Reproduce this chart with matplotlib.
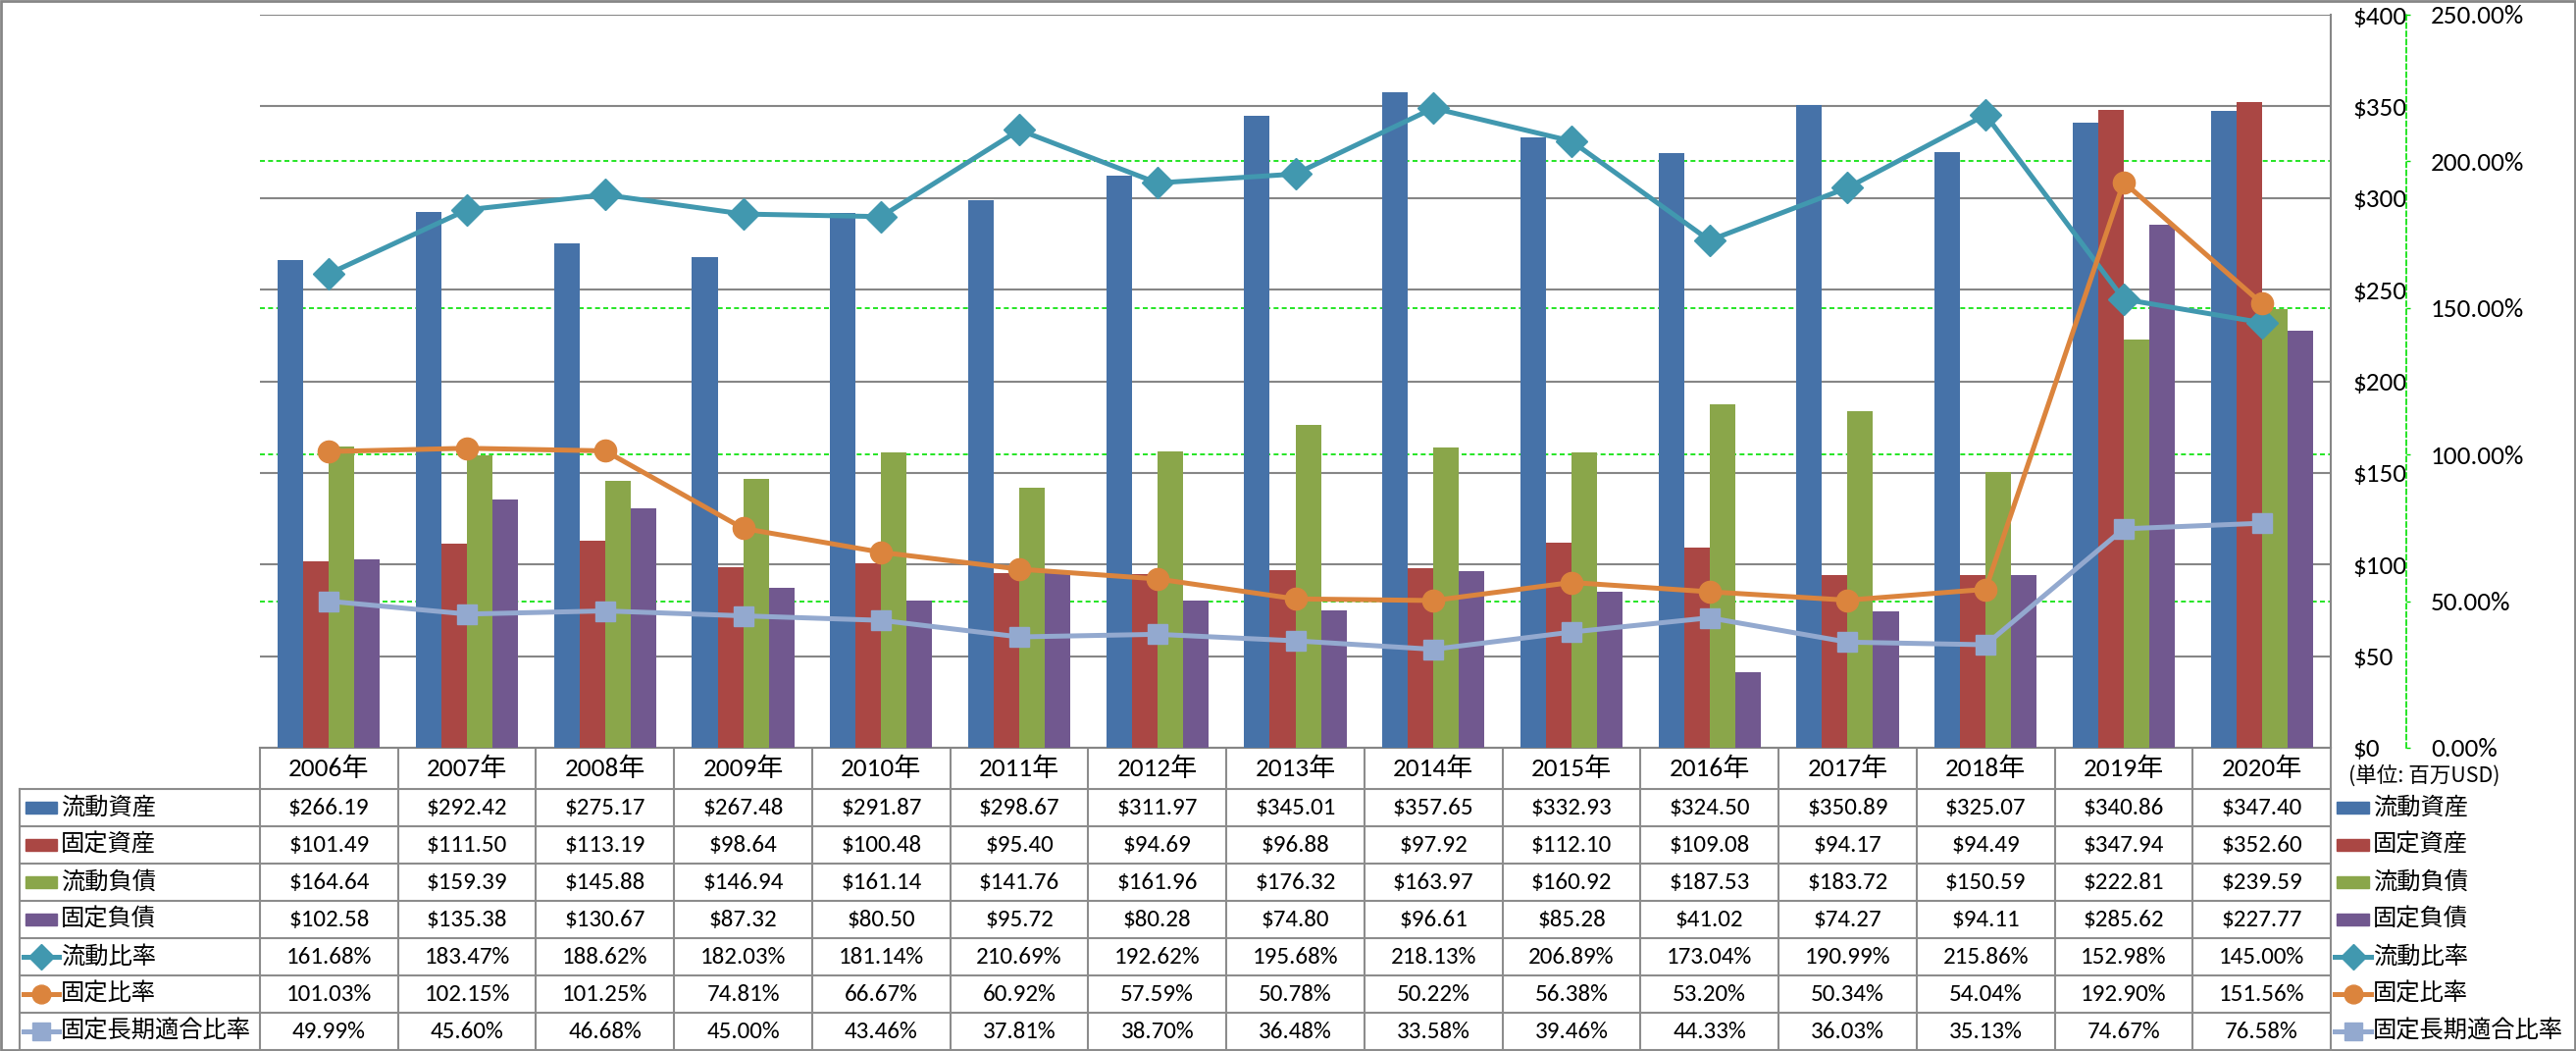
import numpy as np
import matplotlib.pyplot as plt
from matplotlib import font_manager as fm
from matplotlib.patches import Rectangle
from matplotlib.lines import Line2D

# --- data (百万USD / %) ---
years = [2006, 2007, 2008, 2009, 2010, 2011, 2012, 2013, 2014, 2015, 2016, 2017, 2018, 2019, 2020]
cur_assets = [266.19, 292.42, 275.17, 267.48, 291.87, 298.67, 311.97, 345.01, 357.65, 332.93, 324.50, 350.89, 325.07, 340.86, 347.40]
fix_assets = [101.49, 111.50, 113.19, 98.64, 100.48, 95.40, 94.69, 96.88, 97.92, 112.10, 109.08, 94.17, 94.49, 347.94, 352.60]
cur_liab = [164.64, 159.39, 145.88, 146.94, 161.14, 141.76, 161.96, 176.32, 163.97, 160.92, 187.53, 183.72, 150.59, 222.81, 239.59]
fix_liab = [102.58, 135.38, 130.67, 87.32, 80.50, 95.72, 80.28, 74.80, 96.61, 85.28, 41.02, 74.27, 94.11, 285.62, 227.77]
cur_ratio = [161.68, 183.47, 188.62, 182.03, 181.14, 210.69, 192.62, 195.68, 218.13, 206.89, 173.04, 190.99, 215.86, 152.98, 145.00]
fix_ratio = [101.03, 102.15, 101.25, 74.81, 66.67, 60.92, 57.59, 50.78, 50.22, 56.38, 53.20, 50.34, 54.04, 192.90, 151.56]
fix_lt_ratio = [49.99, 45.60, 46.68, 45.00, 43.46, 37.81, 38.70, 36.48, 33.58, 39.46, 44.33, 36.03, 35.13, 74.67, 76.58]

bar_names = ['流動資産', '固定資産', '流動負債', '固定負債']
line_names = ['流動比率', '固定比率', '固定長期適合比率']
bar_colors = ['#4672A8', '#AA4744', '#8AA64A', '#71588F']
line_colors = ['#4198AF', '#DB843D', '#93A9CF']
line_markers = ['D', 'o', 's']
line_ms = [16, 16, 15]

# --- fonts ---
avail = {f.name for f in fm.fontManager.ttflist}
latin = 'DejaVu Sans'
for cand in ['Carlito', 'Liberation Sans']:
    if cand in avail:
        latin = cand
        break
plt.rcParams['font.family'] = [latin, 'Noto Sans CJK JP', 'DejaVu Sans']
FS = 18      # table numbers
FS_AX = 19.5   # axis tick labels
CJK = ['Noto Sans CJK JP', 'DejaVu Sans']

W, H = 2626, 1071
fig = plt.figure(figsize=(W / 100, H / 100), dpi=100)

# plot area in pixel coords
L, R, T, B = 265, 2376, 15, 762
ax = fig.add_axes([L / W, (H - B) / H, (R - L) / W, (B - T) / H])
ax2 = ax.twinx()

n = len(years)
x = np.arange(n)
bw = 0.185
bars = [cur_assets, fix_assets, cur_liab, fix_liab]
for i, (vals, c) in enumerate(zip(bars, bar_colors)):
    ax.bar(x + (i - 1.5) * bw, vals, bw, color=c, zorder=3)

ax.set_xlim(-0.5, n - 0.5)
ax.set_ylim(0, 400)
ax.set_yticks(np.arange(0, 401, 50))
ax.set_yticklabels([f'${v}' for v in range(0, 401, 50)])
ax.yaxis.tick_right()
ax.tick_params(axis='y', length=0, pad=16, labelsize=FS_AX)
ax.set_xticks([])
ax.grid(axis='y', color='#868686', lw=1.5, zorder=0)
ax.set_axisbelow(True)
for s in ['top', 'left']:
    ax.spines[s].set_visible(False)
for s in ['right', 'bottom']:
    ax.spines[s].set_color('#868686')
    ax.spines[s].set_linewidth(1.5)

# secondary (%) axis
pct_ticks = np.arange(0, 251, 50)
for p in pct_ticks[1:-1]:
    ax.axhline(p * 400 / 250, color='#00E000', lw=1.2, ls=(0, (3, 2)), zorder=1)

ratios = [cur_ratio, fix_ratio, fix_lt_ratio]
for vals, c, m, ms in zip(ratios, line_colors, line_markers, line_ms):
    ax2.plot(x, vals, color=c, lw=3.6, marker=m, ms=ms, mfc=c, mec=c,
             solid_joinstyle='round', zorder=4)
ax2.set_ylim(0, 250)
ax2.set_yticks(pct_ticks)
ax2.set_yticklabels([f'{p:.2f}%' for p in pct_ticks])
ax2.tick_params(axis='y', length=3, width=1, color='#00E000', pad=15, labelsize=FS_AX)
for s in ['top', 'left', 'bottom']:
    ax2.spines[s].set_visible(False)
ax2.spines['right'].set_position(('outward', 77 * 0.72))
ax2.spines['right'].set_color('#00E000')
ax2.spines['right'].set_linestyle((0, (3, 2)))
ax2.spines['right'].set_linewidth(1.2)

# --- data table + legend, drawn in pixel coords ---
tab = fig.add_axes([0, 0, 1, 1], zorder=-1)
tab.set_xlim(0, W)
tab.set_ylim(H, 0)
tab.axis('off')
gc = '#8C8C8C'
col_x = np.linspace(L, R, n + 1)
row_y = np.linspace(804, 1070, 8)
tab_left = 20

for cx in col_x:
    tab.plot([cx, cx], [B, row_y[-1]], color=gc, lw=1.5)
tab.plot([tab_left, tab_left], [row_y[0], row_y[-1]], color=gc, lw=1.5)
for ry in row_y:
    tab.plot([tab_left, R], [ry, ry], color=gc, lw=1.5)

centers = (col_x[:-1] + col_x[1:]) / 2
for cx, yr in zip(centers, years):
    tab.text(cx, (B + row_y[0]) / 2, f'{yr}年', ha='center', va='center', fontsize=FS_AX)

rows = bars + ratios
names = bar_names + line_names
for r, (vals, name) in enumerate(zip(rows, names)):
    yc = (row_y[r] + row_y[r + 1]) / 2
    for cx, v in zip(centers, vals):
        s = f'${v:.2f}' if r < 4 else f'{v:.2f}%'
        tab.text(cx, yc, s, ha='center', va='center', fontsize=FS)
    # keys left (in table) and right (legend)
    for kx0, kx1, tx in [(24, 60, 62), (2380, 2417, 2419)]:
        if r < 4:
            tab.add_patch(Rectangle((kx0 + 2, yc - 6), kx1 - kx0 - 4, 12, color=bar_colors[r]))
        else:
            k = r - 4
            tab.add_line(Line2D([kx0, (kx0 + kx1) / 2, kx1], [yc, yc, yc],
                                color=line_colors[k], lw=3.6,
                                marker=line_markers[k], markevery=[1],
                                ms=line_ms[k] * 0.85, mfc=line_colors[k], mec=line_colors[k]))
        tab.text(tx, yc, name, ha='left', va='center', fontsize=17.5, family=CJK)

tab.text(2394, 791, '(単位: 百万USD)', ha='left', va='center', fontsize=15.5, family=CJK)

# outer frame
tab.add_patch(Rectangle((1, 1), W - 2, H - 2, fill=False, ec='#868686', lw=2))

fig.savefig('out.png', dpi=100)
